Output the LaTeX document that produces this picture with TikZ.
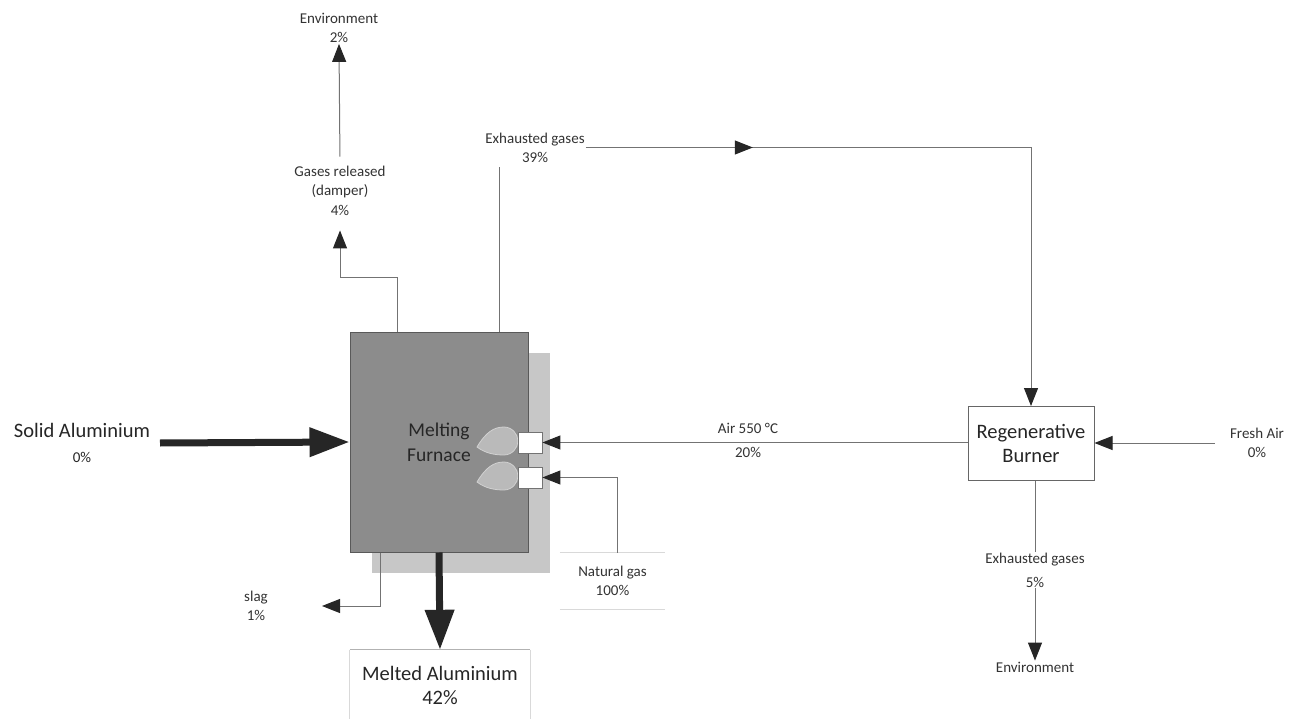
\documentclass[tikz,border=0pt]{standalone}
\usepackage{fontspec}
\setmainfont{Carlito}
\usetikzlibrary{arrows.meta,decorations.markings,calc}
\begin{document}
\begin{tikzpicture}[x=1pt,y=-1pt,
  lbl/.style={font=\fontsize{15}{19}\selectfont, text=black!80, align=center, inner sep=1pt},
  biglbl/.style={font=\fontsize{20.5}{25}\selectfont, text=black!85, align=center, inner sep=1pt},
  conn/.style={draw=black!55, line width=1pt},
  tip/.style={-{Triangle[length=18pt,width=14pt,color=black!85]}},
  bigarrow/.style={draw=black!85, line width=7pt, -{Triangle[length=40pt,width=28pt]}},
  faint/.style={draw=black!15, line width=0.8pt},
  furnacestyle/.style={draw=black!65, fill=black!45, line width=1pt, minimum width=178pt, minimum height=220pt, inner sep=0pt},
  backstyle/.style={fill=black!22, draw=none, minimum width=178pt, minimum height=220pt, inner sep=0pt},
  flame/.style={fill=black!27, draw=black!18, line width=0.8pt},
  sqstyle/.style={draw=black!55, fill=white, line width=0.8pt, minimum width=24pt, minimum height=21pt, inner sep=0pt},
  burnerstyle/.style={draw=black!60, fill=white, line width=1pt, minimum width=126pt, minimum height=74pt, align=center, inner sep=0pt, font=\fontsize{20.5}{24}\selectfont, text=black!85},
]
\useasboundingbox[fill=white] (0,0) rectangle (1290,719);

% furnace
\node[backstyle] (furnaceback) at (461,463) {};
\node[furnacestyle, font=\fontsize{19.5}{25}\selectfont, text=black!85, align=center] (furnace) at (439,442) {Melting\\Furnace};

% flames
\fill[flame] (477,447) .. controls (486,432) and (494,427) .. (504,427) .. controls (512,427) and (518,434) .. (518,441) .. controls (518,448) and (512,455) .. (504,455) .. controls (494,455) and (485,453) .. (477,447) -- cycle;
\fill[flame] (477,482) .. controls (486,467) and (494,462) .. (504,462) .. controls (512,462) and (518,469) .. (518,476) .. controls (518,483) and (512,490) .. (504,490) .. controls (494,490) and (485,488) .. (477,482) -- cycle;

\node[sqstyle] (sq1) at (530,442.5) {};
\node[sqstyle] (sq2) at (530,477.5) {};

% burner
\node[burnerstyle] (burner) at (1031,443.5) {Regenerative\\Burner};

% labels
\node[lbl] (env1) at (339,28) {Environment\\2\%};
\node[lbl, font=\fontsize{15}{19.5}\selectfont] (damper) at (340,190.5) {Gases released\\(damper)\\4\%};
\node[lbl] (exh1) at (535,147.5) {Exhausted gases\\39\%};
\node[biglbl] (solid) at (82,443) {Solid Aluminium\\{\fontsize{15}{19}\selectfont 0\%}};
\node[lbl] (slag) at (256,606) {slag\\1\%};
\node[lbl] (air) at (748,440) {Air 550 °C\\[5pt]20\%};
\node[lbl] (fresh) at (1257,443) {Fresh Air\\0\%};
\node[lbl] (exh2) at (1035,570) {Exhausted gases\\[5pt]5\%};
\node[lbl] (env2) at (1035,667) {Environment};
\node[lbl, minimum width=105pt, minimum height=56pt] (ng) at (612.5,581) {Natural gas\\100\%};
\node[biglbl, minimum width=180pt, minimum height=70pt, font=\fontsize{20.5}{24}\selectfont] (melted) at (440,685) {Melted Aluminium\\42\%};

% faint box lines
\draw[faint] (ng.north west) -- (ng.north east);
\draw[faint] (ng.south west) -- (ng.south east);
\draw[faint] (melted.north west) -- (melted.south west);
\draw[faint] (melted.north east) -- (melted.south east);
\draw[draw=black!30, line width=0.8pt] (melted.north west) -- (melted.north east);

% coordinates
\coordinate (slagend) at (322,606);
\coordinate (solidstart) at (160,443);

% connectors
\draw[bigarrow] (solidstart) -- (furnace.west);
\draw[bigarrow] (furnace.south) -- (melted.north);
\draw[conn, tip] ([xshift=-59pt]furnace.south) |- (slagend);
\draw[conn, tip, shorten >=14pt] ([xshift=-42pt]furnace.north) -- ++(0,-54) -| (damper.south);
\draw[conn, tip, shorten <=8pt] (damper.north) -- (env1.south);
\draw[conn, shorten >=4pt] ([xshift=60pt]furnace.north) -- (exh1.south -| {$(furnace.north)+(60,0)$});
\draw[conn, tip, postaction={decorate, decoration={markings, mark=at position 167pt with {\arrow{Triangle[length=18pt,width=14pt,color=black!85]}}}}] (exh1.east) -- (exh1.east -| burner.north) -- (burner.north);
\draw[conn, tip] (sq1.east -| burner.west) -- (sq1.east);
\draw[conn, tip] ([xshift=4.5pt]ng.north) |- (sq2.east);
\draw[conn, tip, shorten <=14pt] (fresh.west) -- (fresh.west -| burner.east);
\draw[conn] (exh2.north |- burner.south) -- (exh2.north);
\draw[conn, tip] (exh2.south) -- (env2.north);
\end{tikzpicture}
\end{document}
